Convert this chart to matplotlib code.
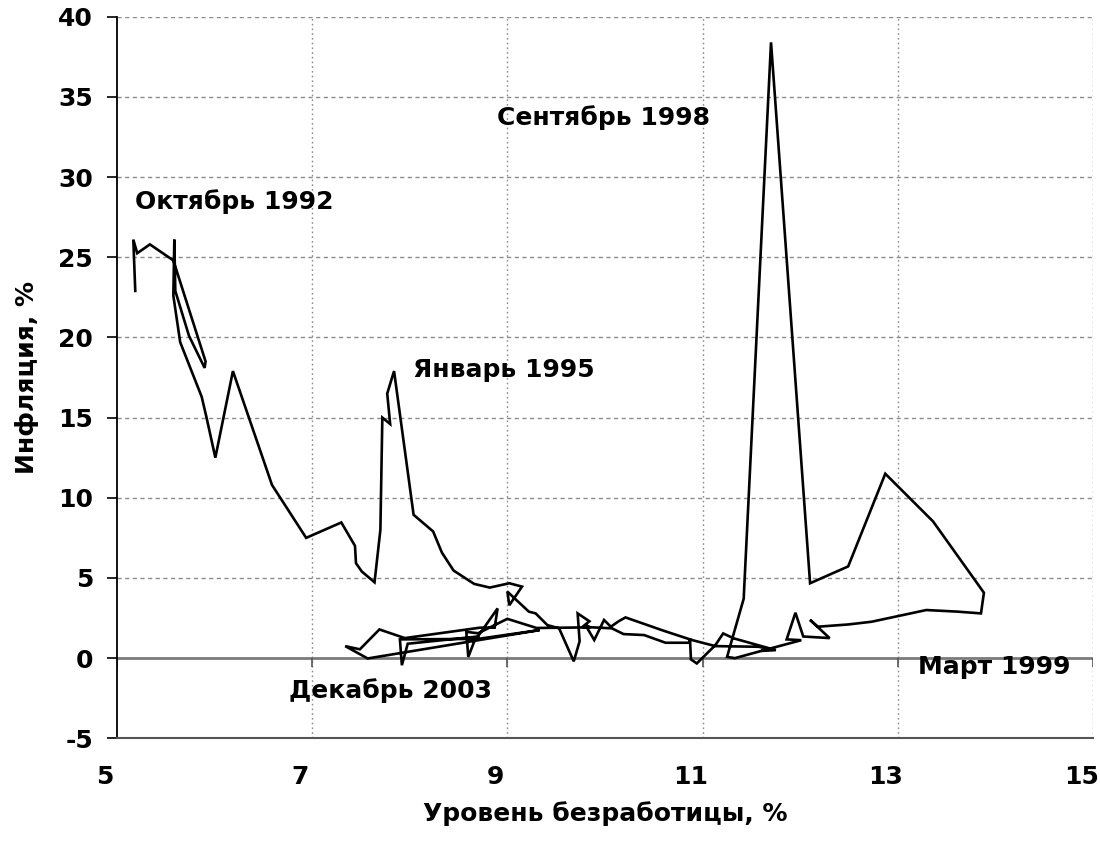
import matplotlib
matplotlib.use('Agg')
import matplotlib.pyplot as plt
import matplotlib.transforms as mtransforms

# Unemployment (x) vs monthly inflation (y), Oct 1992 - Dec 2003
unemployment = [
    5.19, 5.17, 5.21, 5.34, 5.58, 5.91, 5.90, 5.74, 5.60, 5.59,
    5.58, 5.65, 5.87, 5.92, 6.01, 6.19, 6.59, 6.94, 7.30, 7.44,
    7.45, 7.51, 7.64, 7.70, 7.72, 7.80, 7.77, 7.84, 8.04, 8.24,
    8.33, 8.45, 8.66, 8.82, 9.02, 9.15, 9.02, 9.00, 9.22, 9.29,
    9.41, 9.53, 9.68, 9.74, 9.72, 9.84, 9.77, 10.07, 10.19, 10.40,
    10.62, 10.86, 10.87, 10.88, 10.94, 11.13, 11.21, 11.32, 11.69, 11.33,
    11.25, 11.42, 11.70, 12.10, 12.49, 12.87, 13.36, 13.88, 13.85, 13.61,
    13.29, 12.73, 12.49, 12.18, 12.10, 12.30, 12.03, 11.95, 11.86, 12.01,
    11.60, 11.75, 11.57, 11.13, 10.89, 10.60, 10.21, 10.14, 10.06, 9.99,
    9.89, 9.80, 9.85, 9.30, 9.00, 8.70, 8.58, 8.60, 8.66, 8.90,
    8.87, 8.72, 7.95, 7.69, 7.49, 7.34, 7.57, 9.33, 8.70, 7.90,
    7.92, 7.98, 8.30, 8.70,
]
inflation = [
    22.9, 26.1, 25.25, 25.8, 24.8, 18.5, 18.1, 20.1, 22.9, 26.1,
    22.6, 19.7, 16.3, 15.0, 12.5, 17.9, 10.8, 7.5, 8.46, 7.0,
    5.92, 5.4, 4.73, 8.0, 15.0, 14.6, 16.5, 17.9, 8.94, 7.9,
    6.58, 5.46, 4.63, 4.4, 4.67, 4.46, 3.3, 4.15, 2.9, 2.79,
    2.06, 1.86, -0.2, 1.05, 2.79, 2.3, 1.95, 1.86, 1.5, 1.44,
    0.96, 0.96, 1.23, -0.08, -0.33, 0.81, 1.54, 1.23, 0.6, 0.0,
    0.08, 3.7, 38.4, 4.67, 5.72, 11.5, 8.52, 4.08, 2.79, 2.9,
    3.0, 2.27, 2.1, 1.96, 2.38, 1.25, 1.35, 2.83, 1.17, 1.12,
    0.45, 0.5, 0.71, 0.75, 1.13, 1.71, 2.54, 2.3, 1.96, 2.38,
    1.13, 2.06, 1.92, 1.88, 2.45, 1.55, 1.64, 0.08, 1.02, 3.10,
    1.90, 1.90, 1.25, 1.79, 0.55, 0.75, -0.02, 1.75, 1.20, 1.17,
    -0.44, 0.90, 1.10, 1.35,
]

# Labelled months and where their captions sit
labels = ['Октябрь 1992', 'Январь 1995', 'Сентябрь 1998', 'Март 1999', 'Декабрь 2003']
label_x = [5.19, 8.03, 8.89, 13.2, 6.76]
label_y = [28.5, 17.96, 33.7, -0.55, -2.03]

xticks = [5, 7, 9, 11, 13, 15]
yticks = list(range(-5, 41, 5))

plt.rcParams['font.family'] = ['DejaVu Sans']
plt.rcParams['font.weight'] = 'bold'
plt.rcParams['axes.unicode_minus'] = False

FS = 18

fig = plt.figure(figsize=(11, 8.51), dpi=100)
ax = fig.add_axes([0.1061, 0.1324, 0.8878, 0.848])

ax.set_xlim(5, 15)
ax.set_ylim(-5, 40)
ax.set_xticks(xticks)
ax.set_yticks(yticks)

# grid: dotted verticals, dashed horizontals
for xv in xticks[1:]:
    ax.axvline(xv, color='#8c8c8c', lw=1.0, ls=(0, (1.2, 2.2)), zorder=0)
for yv in yticks[1:]:
    if yv != 0:
        ax.axhline(yv, color='#8c8c8c', lw=1.0, ls=(0, (3, 2.5)), zorder=0)

# horizontal axis crossing at zero, with its tick marks
ax.axhline(0, color='#7a7a7a', lw=2.0, zorder=1)
ax.vlines(xticks, -0.58, 0, color='#555555', lw=1.2, zorder=1)

ax.plot(unemployment, inflation, color='black', lw=1.9, zorder=3,
        solid_joinstyle='miter')

for txt, lx, ly in zip(labels, label_x, label_y):
    ax.text(lx, ly, txt, fontsize=FS, fontweight='bold', ha='left', va='center')

for s in ['top', 'right']:
    ax.spines[s].set_visible(False)
ax.spines['left'].set_color('black')
ax.spines['left'].set_linewidth(1.3)
ax.spines['bottom'].set_color('#555555')
ax.spines['bottom'].set_linewidth(1.5)

ax.tick_params(axis='y', direction='out', length=7, width=1.2, pad=10, labelsize=FS)
ax.tick_params(axis='x', length=0, pad=19, labelsize=FS)
for lab in ax.get_yticklabels():
    lab.set_fontweight('bold')
shift = mtransforms.ScaledTranslation(-0.12, 0, fig.dpi_scale_trans)
for lab in ax.get_xticklabels():
    lab.set_fontweight('bold')
    lab.set_transform(lab.get_transform() + shift)

ax.set_xlabel('Уровень безработицы, %', fontsize=FS, fontweight='bold', labelpad=9)
ax.set_ylabel('Инфляция, %', fontsize=FS, fontweight='bold', labelpad=14)

fig.savefig('out.png', dpi=100)
